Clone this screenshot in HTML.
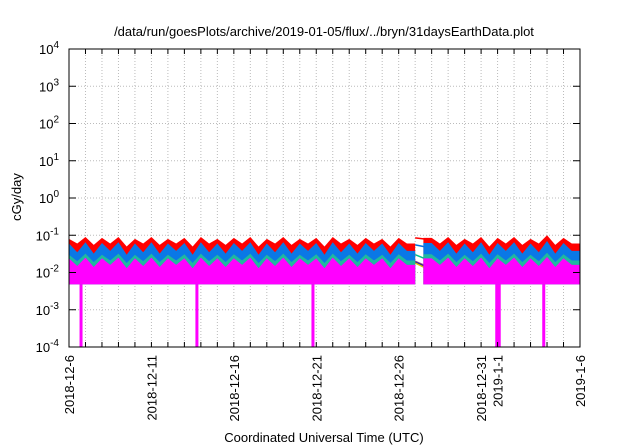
<!DOCTYPE html>
<html><head><meta charset="utf-8"><style>
body{margin:0;background:#fff;}
svg{display:block;font-family:"Liberation Sans",sans-serif;}
</style></head><body>
<svg id="chart" width="640" height="448">
<text x="324" y="36" font-size="13" text-anchor="middle">/data/run/goesPlots/archive/2019-01-05/flux/../bryn/31daysEarthData.plot</text>
<g id="grid"></g><g id="series"></g><g id="axes"></g>
<text x="324" y="442" font-size="13" text-anchor="middle">Coordinated Universal Time (UTC)</text>
<text transform="translate(21,197) rotate(-90)" font-size="13" text-anchor="middle">cGy/day</text>
</svg>
<script>
const xLabels=["2018-12-6","2018-12-11","2018-12-16","2018-12-21","2018-12-26","2018-12-31","2019-1-1","2019-1-6"];
const xLabelDays=[0,5,10,15,20,25,26,31];
const yDecades=[-4,-3,-2,-1,0,1,2,3,4];
// half-day samples (62), null = data gap
const red=[0.08,0.06,0.09,0.055,0.085,0.06,0.09,0.05,0.08,0.06,0.09,0.055,0.08,0.06,0.085,0.05,0.09,0.06,0.08,0.055,0.085,0.06,0.09,0.05,0.08,0.06,0.09,0.055,0.08,0.06,0.085,0.05,0.09,0.06,0.08,0.055,0.085,0.06,0.08,0.05,0.085,0.06,null,null,0.085,0.06,0.09,0.055,0.08,0.06,0.09,0.05,0.085,0.06,0.09,0.055,0.08,0.06,0.1,0.055,0.085,0.06];
const blue=[0.06,0.035,0.065,0.032,0.062,0.038,0.065,0.03,0.06,0.035,0.065,0.032,0.06,0.038,0.062,0.03,0.065,0.035,0.06,0.032,0.062,0.038,0.065,0.03,0.06,0.035,0.065,0.032,0.06,0.038,0.062,0.03,0.065,0.035,0.06,0.032,0.062,0.038,0.06,0.03,0.062,0.038,null,null,0.062,0.038,0.065,0.032,0.06,0.035,0.065,0.03,0.062,0.038,0.065,0.032,0.06,0.035,0.07,0.032,0.062,0.038];
const teal=[0.03,0.02,0.032,0.019,0.03,0.021,0.032,0.018,0.03,0.02,0.032,0.019,0.03,0.021,0.031,0.018,0.032,0.02,0.03,0.019,0.031,0.021,0.032,0.018,0.03,0.02,0.032,0.019,0.03,0.021,0.031,0.018,0.032,0.02,0.03,0.019,0.031,0.021,0.03,0.018,0.031,0.021,null,null,0.031,0.021,0.032,0.019,0.03,0.02,0.032,0.018,0.031,0.021,0.032,0.019,0.03,0.02,0.034,0.019,0.031,0.021];
const magentaTop=[0.024,0.015,0.025,0.014,0.024,0.016,0.025,0.013,0.024,0.015,0.025,0.014,0.024,0.016,0.024,0.013,0.025,0.015,0.024,0.014,0.024,0.016,0.025,0.013,0.024,0.015,0.025,0.014,0.024,0.016,0.024,0.013,0.025,0.015,0.024,0.014,0.024,0.016,0.024,0.013,0.024,0.016,null,null,0.024,0.016,0.025,0.014,0.024,0.015,0.025,0.013,0.024,0.016,0.025,0.014,0.024,0.015,0.026,0.014,0.024,0.016];
const magentaBottom=0.0048;
const dropDays=[0.73,7.76,14.8,25.95,26.1,28.8];
const dropValue=0.0001;
const gapLines=[{c:"#ff0000",a:0.085,b:0.075},{c:"#0070e0",a:0.055,b:0.045},{c:"#00c090",a:0.03,b:0.02},{c:"#a05090",a:0.02,b:0.013},{c:"#2020a0",a:0.019,b:0.012},{c:"#e0c000",a:0.018,b:0.011}];

const X0=69,X1=580,Y0=49,Y1=347;
const xs=d=>X0+d*(X1-X0)/31;
const ys=v=>Y0+(4-Math.log10(v))*(Y1-Y0)/8;
const NS="http://www.w3.org/2000/svg";
function mk(tag,attrs,parent){const e=document.createElementNS(NS,tag);for(const k in attrs)e.setAttribute(k,attrs[k]);parent.appendChild(e);return e;}
const grid=document.getElementById('grid'),ser=document.getElementById('series'),ax=document.getElementById('axes');
for(let d=1;d<31;d++){const l=mk('line',{x1:xs(d),x2:xs(d),y1:Y0,y2:Y1,stroke:'#bbb','stroke-width':1,'stroke-dasharray':'1,2'},grid);

}
yDecades.forEach(e=>{if(e>-4&&e<4){const l=mk('line',{x1:X0,x2:X1,y1:ys(Math.pow(10,e)),y2:ys(Math.pow(10,e)),stroke:'#bbb','stroke-width':1,'stroke-dasharray':'1,2'},grid);

}});
function area(arr,color,name){
  let segs=[[]];arr.forEach((v,i)=>{if(v==null){if(segs[segs.length-1].length)segs.push([]);}else segs[segs.length-1].push([i/2,v]);});
  segs.forEach((s,si)=>{if(!s.length)return;
    const xa=si===0?0:s[0][0]-0.5, xb=Math.min(s[s.length-1][0]+0.5,31);
    let d='M'+xs(xa)+','+ys(magentaBottom)+' L'+xs(xa)+','+ys(s[0][1]);
    s.forEach(p=>{d+=' L'+xs(Math.max(p[0],xa))+','+ys(p[1]);});
    d+=' L'+xs(xb)+','+ys(s[s.length-1][1])+' L'+xs(xb)+','+ys(magentaBottom)+' Z';
    const e=mk('path',{d:d,fill:color},ser);
    
    });
}
gapLines.forEach(g=>{const l=mk('line',{x1:xs(21),x2:xs(22),y1:ys(g.a),y2:ys(g.b),stroke:g.c,'stroke-width':1.5},ser);

});
area(red,'#ff0000','red-series');
area(blue,'#0a78e6','blue-series');
area(teal,'#20b8a0','teal-series');
area(magentaTop,'#ff00ff','magenta-series');
dropDays.forEach(d=>{const r=mk('rect',{x:xs(d)-1.5,y:ys(magentaBottom),width:3,height:ys(dropValue)-ys(magentaBottom),fill:'#ff00ff'},ser);

});
const fr=mk('rect',{x:X0,y:Y0,width:X1-X0,height:Y1-Y0,fill:'none',stroke:'#000','stroke-width':1},ax);


for(let d=1;d<31;d++){mk('line',{x1:xs(d),x2:xs(d),y1:Y1,y2:Y1-5,stroke:'#000'},ax);mk('line',{x1:xs(d),x2:xs(d),y1:Y0,y2:Y0+5,stroke:'#000'},ax);}
yDecades.forEach(e=>{const y=ys(Math.pow(10,e));mk('line',{x1:X0,x2:X0+7,y1:y,y2:y,stroke:'#000'},ax);mk('line',{x1:X1,x2:X1-7,y1:y,y2:y,stroke:'#000'},ax);
const t=mk('text',{x:X0-10,y:y+5,'font-size':13,'text-anchor':'end'},ax);


t.textContent='10';const s=mk('tspan',{dy:-6,'font-size':10},t);s.textContent=String(e);});
xLabels.forEach((lab,i)=>{const x=xs(xLabelDays[i]);const t=mk('text',{transform:'translate('+(x+5)+','+(Y1+8)+') rotate(-90)','font-size':13,'text-anchor':'end'},ax);


t.textContent=lab;});
</script>
</body></html>
